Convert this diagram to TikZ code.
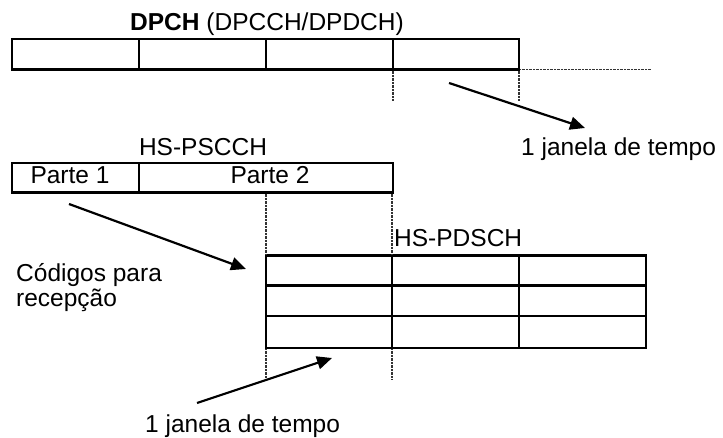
\documentclass[tikz,border=0pt]{standalone}
\usepackage{fontspec}
\setmainfont{Liberation Sans}
\usetikzlibrary{arrows.meta}
\begin{document}
\begin{tikzpicture}[x=1pt,y=-1pt,
  cell/.style={draw=black,line width=2.4pt,rectangle,inner sep=0pt,outer sep=0pt,minimum height=#1,anchor=north west},
  lab/.style={inner sep=0pt,font=\fontsize{24.5}{28}\selectfont},
  guide/.style={line width=1.8pt,dash pattern=on 0.7pt off 0.7pt,black!80},
  pointer/.style={line width=2.2pt,-{Triangle[length=15pt,width=13pt]}}]
\useasboundingbox (0,0) rectangle (723,438);
% DPCH
\node[cell=30.5pt,minimum width=127pt] (d1) at (12,39) {};
\node[cell=30.5pt,minimum width=127pt] (d2) at (139,39) {};
\node[cell=30.5pt,minimum width=127pt] (d3) at (266,39) {};
\node[cell=30.5pt,minimum width=126pt] (d4) at (393,39) {};
\node[lab,anchor=base] (tdpch) at (267,30.5) {\textbf{DPCH} (DPCCH/DPDCH)};
\coordinate (e1) at (651,69.5);
\coordinate (e2) at (393,101);
\coordinate (e3) at (519,101);
\draw[guide] ([xshift=1.2pt]d4.south east) -- (e1);
\draw[guide] ([yshift=-1.2pt]d4.south west) -- (e2);
\draw[guide] ([yshift=-1.2pt]d4.south east) -- (e3);
\coordinate (a1s) at (449,83);
\coordinate (a1e) at (585,128);
\draw[pointer] (a1s) -- (a1e);
\node[lab,anchor=base west] (tj1) at (521,156) {1 janela de tempo};
% HS-PSCCH
\node[lab,anchor=base] (tscch) at (203,156) {HS-PSCCH};
\node[cell=29.5pt,minimum width=127pt] (p1) at (12,163) {};
\node[cell=29.5pt,minimum width=254pt] (p2) at (139,163) {};
\node[lab,anchor=base] (tp1) at (70,184) {Parte 1};
\node[lab,anchor=base] (tp2) at (270,184) {Parte 2};
% HS-PDSCH
\node[cell=30pt,minimum width=126pt] (g11) at (266,255.5) {};
\node[cell=30pt,minimum width=127pt] (g12) at (392,255.5) {};
\node[cell=30pt,minimum width=127pt] (g13) at (519,255.5) {};
\node[cell=30.5pt,minimum width=126pt] (g21) at (266,285.5) {};
\node[cell=30.5pt,minimum width=127pt] (g22) at (392,285.5) {};
\node[cell=30.5pt,minimum width=127pt] (g23) at (519,285.5) {};
\node[cell=32pt,minimum width=126pt] (g31) at (266,316) {};
\node[cell=32pt,minimum width=127pt] (g32) at (392,316) {};
\node[cell=32pt,minimum width=127pt] (g33) at (519,316) {};
\node[lab,anchor=base west] (tpdsch) at (394,247) {HS-PDSCH};
\coordinate (v2) at (392,193.7);
\draw[guide] (v2) -- ([yshift=1.2pt]g12.north west);
\coordinate (v1) at (266,193.7);
\draw[guide] (v1) -- ([yshift=1.2pt]g11.north west);
\coordinate (b1) at (266,379);
\coordinate (b2) at (392,379);
\draw[guide] ([yshift=-1.2pt]g31.south west) -- (b1);
\draw[guide] ([yshift=-1.2pt]g32.south west) -- (b2);
\node[lab,anchor=base west] (tcod) at (16,282) {Códigos para};
\node[lab,anchor=base west] (trec) at (16,307) {recepção};
\coordinate (a2s) at (69,204);
\coordinate (a2e) at (246,269);
\draw[pointer] (a2s) -- (a2e);
\coordinate (a3s) at (197,403);
\coordinate (a3e) at (332,358);
\draw[pointer] (a3s) -- (a3e);
\node[lab,anchor=base west] (tj2) at (145,432) {1 janela de tempo};
\end{tikzpicture}
\end{document}
